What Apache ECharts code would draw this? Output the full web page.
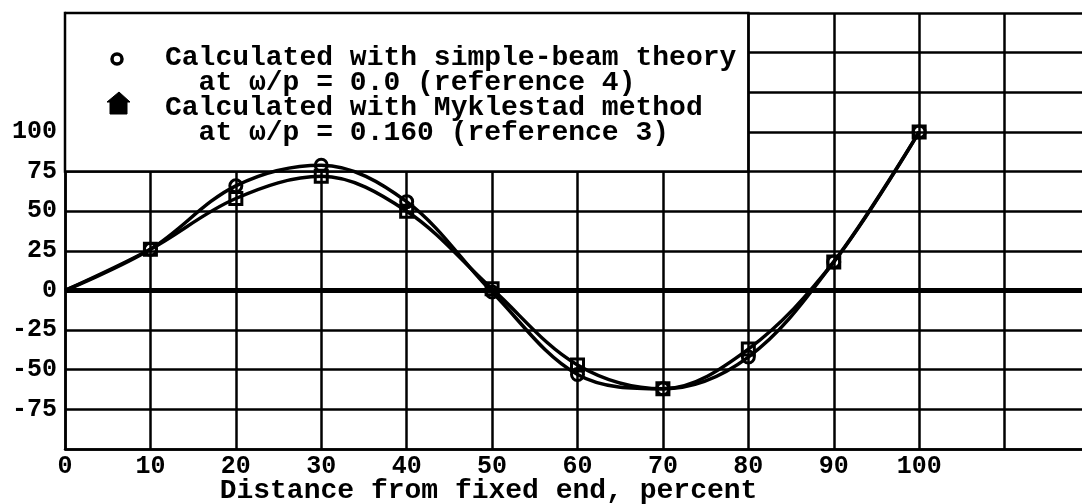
<!DOCTYPE html>
<html>
<head>
<meta charset="utf-8">
<script src="https://cdn.jsdelivr.net/npm/echarts@6/dist/echarts.min.js"></script>
<style>
html,body{margin:0;padding:0;background:#fff;}
#chart{width:1082px;height:504px;}
</style>
</head>
<body>
<div id="chart"></div>
<script>
// ---- data ----
const distance = [0, 10, 20, 30, 40, 50, 60, 70, 80, 90, 100];
const simpleBeam = [0, 26, 66, 79, 56, -1, -53, -62, -42, 18, 100];
const myklestad = [0, 26, 58, 72, 50, 1, -47, -62, -37, 18, 100];
const xTickLabels = ['0','10','20','30','40','50','60','70','80','90','100'];
const yTickLabels = ['-75','-50','-25','0','25','50','75','100'];
const xName = 'Distance from fixed end, percent';
const legendLines = [
  'Calculated with simple-beam theory',
  '  at \u03c9/p = 0.0 (reference 4)',
  'Calculated with Myklestad method',
  '  at \u03c9/p = 0.160 (reference 3)'
];
const seriesNames = ['Calculated with simple-beam theory', 'Calculated with Myklestad method'];

const FONT = '"Liberation Mono", "DejaVu Sans Mono", monospace';

function toPoints(ys) {
  return distance.map((x, i) => i === 0
    ? { value: [x, ys[i]], symbol: 'none' }
    : [x, ys[i]]);
}

const chart = echarts.init(document.getElementById('chart'), null, { renderer: 'canvas' });

const option = {
  animation: false,
  backgroundColor: '#fff',
  grid: { left: 65, top: 13, bottom: 55, right: -8, outerBoundsMode: 'none', containLabel: false },
  xAxis: {
    type: 'value', min: 0, max: 120, interval: 10,
    axisLine: { show: true, onZero: false, lineStyle: { color: '#000', width: 2.5 } },
    axisTick: { show: false },
    splitLine: { show: true, lineStyle: { color: '#000', width: 2.5 } },
    axisLabel: {
      color: '#000', fontFamily: FONT, fontWeight: 'bold', fontSize: 25, margin: 5,
      formatter: v => xTickLabels.indexOf(String(v)) >= 0 ? String(v) : ''
    },
    name: xName, nameLocation: 'middle', nameGap: 28, nameMoveOverlap: false,
    nameTextStyle: { color: '#000', fontFamily: FONT, fontWeight: 'bold', fontSize: 28, padding: [0, 178, 0, 0] }
  },
  yAxis: {
    type: 'value', min: -100, max: 175, interval: 25,
    axisLine: { show: true, lineStyle: { color: '#000', width: 2.5 } },
    axisTick: { show: false },
    splitLine: { show: true, lineStyle: { color: '#000', width: 2.5 } },
    axisLabel: {
      color: '#000', fontFamily: FONT, fontWeight: 'bold', fontSize: 25, margin: 8,
      formatter: v => yTickLabels.indexOf(String(v)) >= 0 ? String(v) : ''
    }
  },
  series: [
    {
      name: seriesNames[0], type: 'line', z: 3,
      data: toPoints(simpleBeam),
      smooth: 0.35,
      symbol: 'circle', symbolSize: 12,
      lineStyle: { color: '#000', width: 3.5 },
      itemStyle: { color: 'rgba(255,255,255,0)', borderColor: '#000', borderWidth: 3 },
      markArea: {
        silent: true,
        itemStyle: { color: '#fff', borderColor: '#000', borderWidth: 2.5 },
        data: [[{ xAxis: 0, yAxis: 75 }, { xAxis: 80, yAxis: 175 }]]
      },
      markLine: {
        silent: true, symbol: ['none', 'none'], label: { show: false },
        lineStyle: { color: '#000', width: 5, type: 'solid' },
        data: [{ yAxis: 0 }]
      }
    },
    {
      name: seriesNames[1], type: 'line', z: 4,
      data: toPoints(myklestad),
      smooth: 0.35,
      symbol: 'rect', symbolSize: 12,
      lineStyle: { color: '#000', width: 3.5 },
      itemStyle: { color: 'rgba(255,255,255,0)', borderColor: '#000', borderWidth: 3 }
    }
  ],
  graphic: [
    {
      type: 'circle', z: 100,
      shape: { cx: 117, cy: 59, r: 5 },
      style: { fill: '#fff', stroke: '#000', lineWidth: 3.5 }
    },
    {
      type: 'polygon', z: 100,
      shape: { points: [[119, 92], [130, 102], [127, 102], [127, 114], [110, 114], [110, 102], [107, 102]] },
      style: { fill: '#000', stroke: '#000', lineWidth: 1 }
    },
    {
      type: 'text', z: 100, left: 165, top: 44,
      style: {
        text: legendLines.join('\n'),
        fill: '#000', font: 'bold 28px ' + FONT, lineHeight: 25
      }
    }
  ]
};
chart.setOption(option);
</script>
</body>
</html>
